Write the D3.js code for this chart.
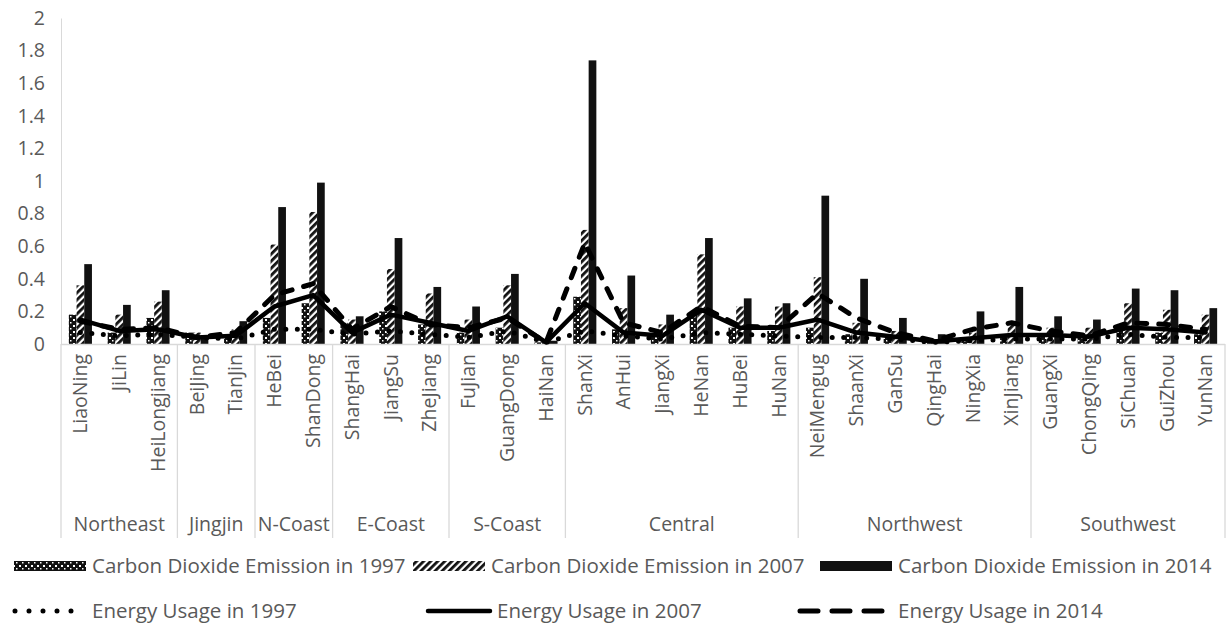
<!DOCTYPE html>
<html>
<head>
<meta charset="utf-8">
<script src="https://cdn.jsdelivr.net/npm/d3@7/dist/d3.min.js"></script>
<style>
  html, body { margin: 0; padding: 0; background: #fff; }
  svg { display: block; }
  text { font-family: "Open Sans", "Noto Sans", sans-serif; fill: #595959; }
</style>
</head>
<body>
<svg id="chart" width="1228" height="629"></svg>
<script>
const provinces = ["LiaoNing","JiLin","HeiLongjiang","BeiJing","TianJin","HeBei","ShanDong","ShangHai","JiangSu","ZheJiang","FuJian","GuangDong","HaiNan","ShanXi","AnHui","JiangXi","HeNan","HuBei","HuNan","NeiMengug","ShaanXi","GanSu","QingHai","NingXia","XinJiang","GuangXi","ChongQing","SiChuan","GuiZhou","YunNan"];
const groups = ["Northeast","Jingjin","N-Coast","E-Coast","S-Coast","Central","Northwest","Southwest"];
const groupSizes = [3,2,2,3,3,6,6,5];

const co2_1997 = [0.18,0.07,0.16,0.07,0.05,0.16,0.25,0.13,0.20,0.12,0.07,0.10,0.01,0.29,0.09,0.05,0.19,0.10,0.08,0.10,0.06,0.05,0.01,0.02,0.05,0.05,0.04,0.09,0.07,0.06];
const co2_2007 = [0.36,0.18,0.26,0.07,0.09,0.61,0.81,0.15,0.46,0.31,0.15,0.36,0.02,0.70,0.22,0.12,0.55,0.23,0.23,0.41,0.13,0.08,0.03,0.07,0.12,0.10,0.10,0.25,0.21,0.18];
const co2_2014 = [0.49,0.24,0.33,0.05,0.14,0.84,0.99,0.17,0.65,0.35,0.23,0.43,0.02,1.74,0.42,0.18,0.65,0.28,0.25,0.91,0.40,0.16,0.06,0.20,0.35,0.17,0.15,0.34,0.33,0.22];

const energy_1997 = [0.07,0.05,0.06,0.04,0.03,0.09,0.09,0.06,0.08,0.06,0.04,0.08,0.01,0.08,0.05,0.03,0.07,0.06,0.05,0.04,0.04,0.03,0.01,0.02,0.03,0.03,0.03,0.06,0.04,0.04];
const energy_2007 = [0.15,0.08,0.09,0.04,0.05,0.23,0.30,0.07,0.18,0.13,0.08,0.17,0.01,0.25,0.07,0.05,0.21,0.10,0.10,0.15,0.07,0.045,0.015,0.035,0.055,0.055,0.045,0.10,0.09,0.07];
const energy_2014 = [0.14,0.09,0.10,0.04,0.07,0.30,0.37,0.09,0.23,0.12,0.10,0.16,0.01,0.62,0.13,0.07,0.23,0.11,0.10,0.31,0.16,0.07,0.02,0.09,0.13,0.08,0.05,0.13,0.12,0.09];

const yTicks = [0,0.2,0.4,0.6,0.8,1,1.2,1.4,1.6,1.8,2];
const barSeries = ["Carbon Dioxide Emission in 1997","Carbon Dioxide Emission in 2007","Carbon Dioxide Emission in 2014"];
const lineSeries = ["Energy Usage in 1997","Energy Usage in 2007","Energy Usage in 2014"];

const svg = d3.select("#chart");
const plotL = 61, plotR = 1225, plotT = 18, plotB = 344;
const gridC = "#d9d9d9";
const fs = 19.5;

// patterns
const defs = svg.append("defs");
const pc = defs.append("pattern").attr("id","checker").attr("patternUnits","userSpaceOnUse")
  .attr("width",6).attr("height",6);
pc.append("rect").attr("width",6).attr("height",6).attr("fill","#111");
pc.append("rect").attr("x",1).attr("y",1).attr("width",2).attr("height",2).attr("fill","#fff");
pc.append("rect").attr("x",4).attr("y",4).attr("width",1.5).attr("height",1.5).attr("fill","#fff");
const pd = defs.append("pattern").attr("id","diag").attr("patternUnits","userSpaceOnUse")
  .attr("width",5).attr("height",5).attr("patternTransform","rotate(45)");
pd.append("rect").attr("width",5).attr("height",5).attr("fill","#fff");
pd.append("rect").attr("width",2.8).attr("height",5).attr("fill","#111");
const fills = ["url(#checker)","url(#diag)","#111"];

const x = d3.scaleBand().domain(provinces).range([plotL, plotR]).paddingInner(0).paddingOuter(0);
const xi = d3.scaleBand().domain([0,1,2]).range([0, x.bandwidth()]).paddingInner(0).paddingOuter(1.02);
const y = d3.scaleLinear().domain([0,2]).range([plotB, plotT]);

// y axis labels
const yAxis = d3.axisLeft(y).tickValues(yTicks).tickSize(0).tickPadding(16)
  .tickFormat(d => d3.format("~g")(d));
const ya = svg.append("g").attr("transform",`translate(${plotL},0)`).call(yAxis);
ya.select(".domain").attr("stroke",gridC).attr("stroke-width",1);
ya.selectAll("text").attr("font-size",fs).attr("fill","#595959").style("font-family",'"Open Sans", sans-serif');

// bars
const barData = [co2_1997, co2_2007, co2_2014];
barData.forEach((arr, s) => {
  svg.append("g").selectAll("rect").data(arr).join("rect")
    .attr("x",(d,i)=>x(provinces[i]) + xi(s))
    .attr("width", xi.bandwidth())
    .attr("y", d => y(d))
    .attr("height", d => y(0) - y(d))
    .attr("fill", fills[s]);
});

// category axis lines
const bottom = svg.append("g");
bottom.append("line").attr("x1",plotL).attr("x2",plotR).attr("y1",plotB+0.5).attr("y2",plotB+0.5)
  .attr("stroke",gridC).attr("stroke-width",1.3);
let acc = 0;
const bounds = [0];
groupSizes.forEach(n => { acc += n; bounds.push(acc); });
const sepBottom = 538;
bounds.forEach(b => {
  const xx = b < provinces.length ? x(provinces[b]) : plotR;
  bottom.append("line").attr("x1",xx).attr("x2",xx).attr("y1",plotB).attr("y2",sepBottom)
    .attr("stroke",gridC).attr("stroke-width",1.3);
});
// province labels
svg.append("g").selectAll("text").data(provinces).join("text")
  .attr("transform", d => `translate(${x(d)+x.bandwidth()/2},${plotB+10}) rotate(-90)`)
  .attr("text-anchor","end").attr("dy","0.35em")
  .attr("font-size",fs).text(d=>d);
// group labels
svg.append("g").selectAll("text").data(groups).join("text")
  .attr("x",(d,i)=>{ const a = x(provinces[bounds[i]]); const b = bounds[i+1] < provinces.length ? x(provinces[bounds[i+1]]) : plotR; return (a+b)/2; })
  .attr("y",524).attr("dy","0.35em").attr("text-anchor","middle")
  .attr("font-size",fs).text(d=>d);

// lines
const lineStyles = [
  {w:5, dash:"0,11.5", cap:"round"},
  {w:4.5, dash:null, cap:"round"},
  {w:5, dash:"10,12", cap:"round"}
];
const lineData = [energy_1997, energy_2007, energy_2014];
const lineGen = d3.line().x((d,i)=>x(provinces[i]) + x.bandwidth()/2).y(d=>y(d));
lineData.forEach((arr,s) => {
  const st = lineStyles[s];
  const p = svg.append("path").datum(arr).attr("d",lineGen).attr("fill","none")
    .attr("stroke","#000").attr("stroke-width",st.w).attr("stroke-linecap",st.cap)
    .attr("stroke-linejoin","round");
  if (st.dash) p.attr("stroke-dasharray",st.dash);
});

// legend
const leg = svg.append("g");
const row1Y = 566, row2Y = 611;
const lfs = 20.5;
const barTextX = [92, 491, 898];
barSeries.forEach((name,s) => {
  leg.append("rect").attr("x",barTextX[s]-78).attr("y",row1Y-5).attr("width",72).attr("height",10).attr("fill",fills[s]);
  leg.append("text").attr("x",barTextX[s]).attr("y",row1Y).attr("dy","0.35em").attr("font-size",lfs).text(name);
});
const lineTextX = [92, 497, 898];
const lineSwX = [[15,85],[428,490],[800,891]];
const legendDash = ["0,14", null, "18,14"];
lineSeries.forEach((name,s) => {
  const st = lineStyles[s];
  const l = leg.append("line").attr("x1",lineSwX[s][0]).attr("x2",lineSwX[s][1]).attr("y1",row2Y).attr("y2",row2Y)
    .attr("stroke","#000").attr("stroke-width",st.w).attr("stroke-linecap",st.cap);
  if (legendDash[s]) l.attr("stroke-dasharray", legendDash[s]);
  leg.append("text").attr("x",lineTextX[s]).attr("y",row2Y).attr("dy","0.35em").attr("font-size",lfs).text(name);
});
</script>
</body>
</html>
